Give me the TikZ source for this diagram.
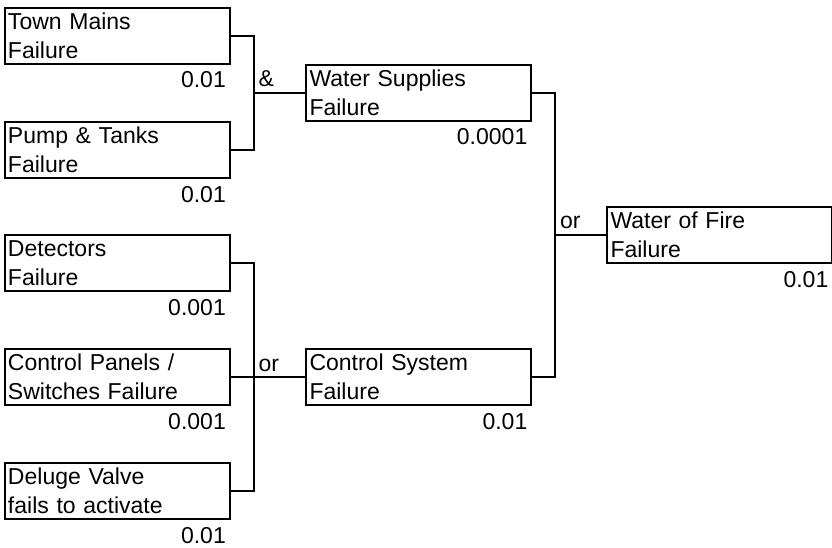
\documentclass[tikz,border=0pt]{standalone}
\usepackage{fontspec}
\setmainfont{Liberation Sans}
\usetikzlibrary{calc}
\tikzset{
  evbox/.style={draw, rectangle, line width=2pt, minimum width=225pt, minimum height=56pt,
    text width=218pt, inner xsep=3.5pt, inner ysep=0pt, align=left, anchor=north west,
    font=\fontsize{23}{28.5}\selectfont},
  prob/.style={anchor=base east, inner sep=0pt, font=\fontsize{23}{28.5}\selectfont},
  gatelab/.style={anchor=base west, inner sep=0pt, font=\fontsize{23}{28.5}\selectfont},
  wire/.style={line width=2pt}
}
\begin{document}
\begin{tikzpicture}[x=1pt,y=-1pt]
\useasboundingbox (0,0) rectangle (832,548);
% basic events
\node[evbox] (tm)  at (3.5,7)   {Town Mains\\Failure};
\node[evbox] (pt)  at (3.5,121) {Pump \& Tanks\\Failure};
\node[evbox] (det) at (3.5,234) {Detectors\\Failure};
\node[evbox] (cp)  at (3.5,348) {Control Panels /\\Switches Failure};
\node[evbox] (dv)  at (3.5,462) {Deluge Valve\\fails to activate};
% intermediate / top events
\node[evbox] (ws)  at (305,64)  {Water Supplies\\Failure};
\node[evbox] (cs)  at (305,348) {Control System\\Failure};
\node[evbox] (wof) at (606,206) {Water of Fire\\Failure};
% probabilities
\node[prob] (tmv)  at ($(tm.south east)+(-4.5,23)$)  {0.01};
\node[prob] (ptv)  at ($(pt.south east)+(-4.5,23)$)  {0.01};
\node[prob] (detv) at ($(det.south east)+(-4.5,23)$) {0.001};
\node[prob] (cpv)  at ($(cp.south east)+(-4.5,23)$)  {0.001};
\node[prob] (dvv)  at ($(dv.south east)+(-4.5,23)$)  {0.01};
\node[prob] (wsv)  at ($(ws.south east)+(-4.5,23)$)  {0.0001};
\node[prob] (csv)  at ($(cs.south east)+(-4.5,23)$)  {0.01};
\node[prob] (wofv) at ($(wof.south east)+(-4.5,23)$) {0.01};
% gate junctions
\path (ws.west) ++(-51,0) coordinate (g1);
\path (cs.west) ++(-51,0) coordinate (g2);
\path (wof.west) ++(-51,0) coordinate (g3);
% connectors
\draw[wire] (tm.east) -| (g1);
\draw[wire] (pt.east) -| (g1);
\draw[wire] (g1) -- (ws.west);
\draw[wire] (det.east) -| (g2);
\draw[wire] (dv.east) -| (g2);
\draw[wire] (cp.east) -- (cs.west);
\draw[wire] (ws.east) -| (g3);
\draw[wire] (cs.east) -| (g3);
\draw[wire] (g3) -- (wof.west);
% gate labels
\node[gatelab] (l1) at ($(g1)+(4.5,-6)$) {\&};
\node[gatelab] (l2) at ($(g2)+(4.5,-6)$) {or};
\node[gatelab] (l3) at ($(g3)+(5,-6)$) {or};
\end{tikzpicture}
\end{document}
